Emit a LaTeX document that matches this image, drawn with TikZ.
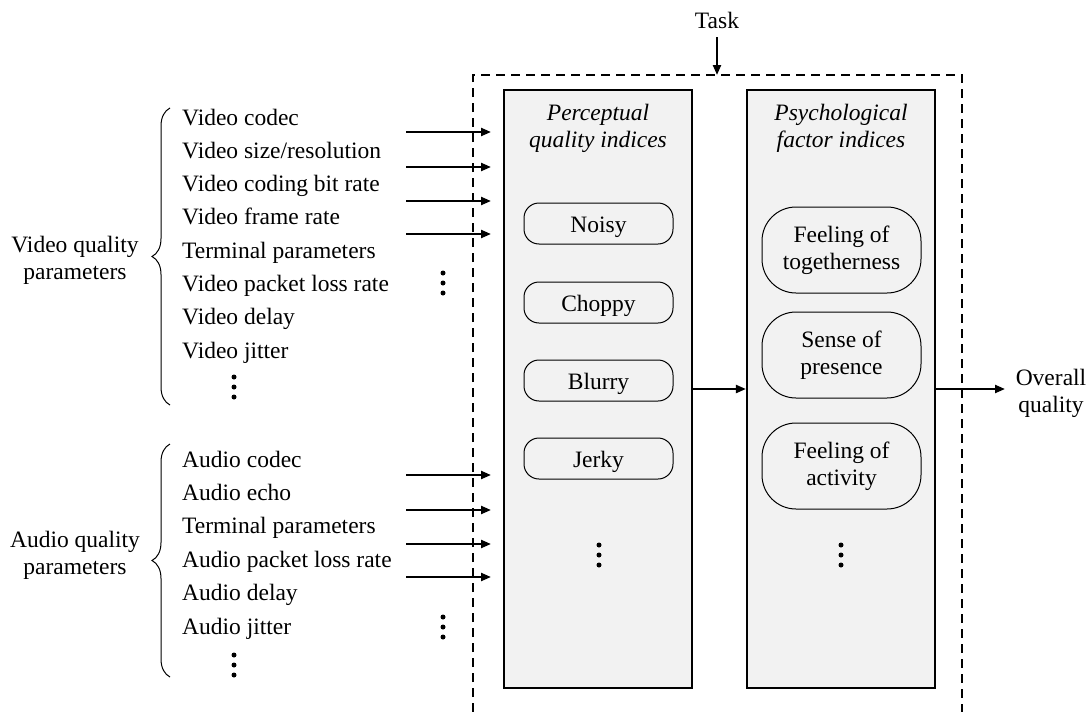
\documentclass[tikz,border=0pt]{standalone}
\usepackage{fontspec}
\setmainfont{Liberation Serif}
\usetikzlibrary{arrows.meta,decorations.pathreplacing}
\definecolor{boxgray}{HTML}{F2F2F2}
\begin{document}
\begin{tikzpicture}[x=1pt,y=-1pt,
  txt/.style={font=\fontsize{23.5}{27}\selectfont, inner sep=0pt, align=center},
  ittxt/.style={txt, font=\fontsize{23.5}{27}\selectfont\itshape},
  param/.style={font=\fontsize{23.5}{27}\selectfont, inner sep=0pt, anchor=base west},
  panel/.style={draw, line width=2.2pt, fill=boxgray, minimum width=188pt, minimum height=598pt, inner sep=0pt},
  pq/.style={txt, draw, line width=1pt, rounded corners=15pt, minimum width=149pt, minimum height=41pt, text height=18pt, text depth=0pt},
  pf/.style={txt, draw, line width=1pt, rounded corners=34pt, minimum width=159pt, minimum height=86pt},
  arr/.style={line width=2.2pt, -{Triangle[length=10pt,width=8pt]}},
  dashbox/.style={line width=2.2pt, dash pattern=on 9pt off 6pt},
  brc/.style={line width=1pt, decorate, decoration={brace, amplitude=18pt, aspect=0.5}},
  dotfill/.style={fill=black}
]
\useasboundingbox (0,0) rectangle (1087,712);

% dashed task box
\coordinate (dbl) at (473,712);
\coordinate (dtl) at (473,75);
\coordinate (dtr) at (962,75);
\coordinate (dbr) at (962,712);
\coordinate (tasktip) at (717,75);
\draw[dashbox] (dbl) -- (dtl) -- (dtr) -- (dbr);

% task
\node[txt, anchor=base] (task) at (717,28) {Task};
\draw[arr, shorten <=9pt] (task.south) -- (tasktip);

% panels
\node[panel] (pqi) at (598,389) {};
\node[panel] (pfi) at (841,389) {};
\node[ittxt] (pqt) at (598,128) {Perceptual\\quality indices};
\node[ittxt] (pft) at (841,128) {Psychological\\factor indices};

% perceptual indices
\node[pq] (noisy) at (598.5,223.5) {Noisy};
\node[pq] (choppy) at (598.5,302.5) {Choppy};
\node[pq] (blurry) at (598.5,380.5) {Blurry};
\node[pq] (jerky) at (598.5,458.5) {Jerky};

% psychological factor indices
\node[pf] (together) at (841.5,250) {Feeling of\\togetherness};
\node[pf] (presence) at (841.5,355) {Sense of\\presence};
\node[pf] (activity) at (841.5,466) {Feeling of\\activity};

% vertical dots
\foreach \x/\y in {599/555, 841/555, 234/387, 234/665, 443/283, 443/627} {
  \fill[dotfill] (\x,\y-10) circle (2.5pt);
  \fill[dotfill] (\x,\y) circle (2.5pt);
  \fill[dotfill] (\x,\y+10) circle (2.5pt);
}

% connections between panels and output
\draw[arr] (pqi.east) -- (pfi.west);
\node[txt] (overall) at (1051,393) {Overall\\quality};
\coordinate (ovin) at (1005,389);
\draw[arr] (pfi.east) -- (ovin);

% video parameters
\foreach \t [count=\i from 0] in {Video codec, Video size/resolution, Video coding bit rate, Video frame rate, Terminal parameters, Video packet loss rate, Video delay, Video jitter} {
  \node[param] (v\i) at (182,{125+33.3*\i}) {\t};
}
\node[txt] (vq) at (75,260) {Video quality\\parameters};
\coordinate (vbb) at (170,405);
\coordinate (vbt) at (170,108);
\draw[brc] (vbb) -- (vbt);

% audio parameters
\foreach \t [count=\i from 0] in {Audio codec, Audio echo, Terminal parameters, Audio packet loss rate, Audio delay, Audio jitter} {
  \node[param] (a\i) at (182,{467+33.4*\i}) {\t};
}
\node[txt] (aq) at (75,555) {Audio quality\\parameters};
\coordinate (abb) at (170,677);
\coordinate (abt) at (170,444);
\draw[brc] (abb) -- (abt);

% input arrows
\foreach \y [count=\i] in {132,167,201,234,475,510,544,577} {
  \coordinate (ins\i) at (406,\y);
  \coordinate (ine\i) at (491,\y);
  \draw[arr] (ins\i) -- (ine\i);
}
\end{tikzpicture}
\end{document}
